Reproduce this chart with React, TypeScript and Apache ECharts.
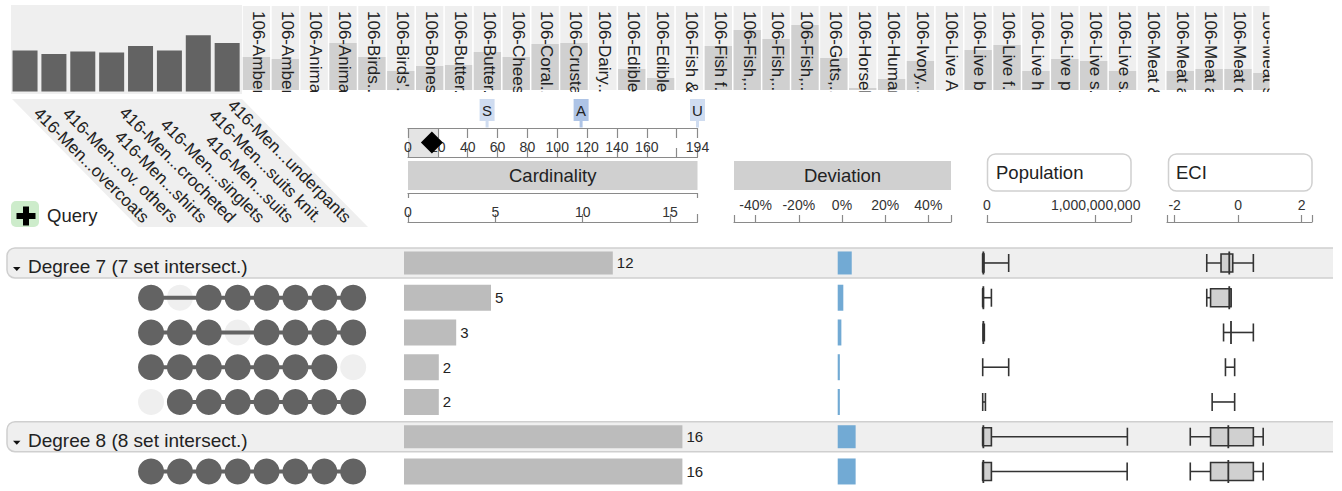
import React, { useEffect, useRef } from "react";
import * as echarts from "echarts";

const FONT = "'Liberation Sans', Arial, sans-serif";

const setNames = ["416-Men...overcoats", "416-Men...ov. others", "416-Men...shirts", "416-Men...crocheted", "416-Men...singlets", "416-Men...suits", "416-Men...suits knit.", "416-Men...underpants"];
const setSizes = [41, 37.6, 40, 39, 45.6, 41, 56.3, 48.6];
const columnNames = ["106-Amber", "106-Amber", "106-Anima", "106-Anima", "106-Birds..", "106-Birds'.", "106-Bones", "106-Butter.", "106-Butter.", "106-Chees", "106-Coral..", "106-Crusta", "106-Dairy..", "106-Edible", "106-Edible", "106-Fish &", "106-Fish f..", "106-Fish,..", "106-Fish,..", "106-Fish,..", "106-Guts,..", "106-Horsel", "106-Human", "106-Ivory,..", "106-Live A", "106-Live b", "106-Live f..", "106-Live h..", "106-Live p", "106-Live s..", "106-Live s..", "106-Meat &", "106-Meat a", "106-Meat a", "106-Meat c", "106-Meat s"];
const columnSizes = [33, 31, 0, 47, 33, 19, 24, 25, 38, 33, 46, 47, 0, 21, 12, 0, 44, 60, 51, 65, 32, 2, 11, 29, 0, 40, 45, 19, 31, 29, 19, 0, 19, 21, 21, 17];

const sliderLabels = [0, 20, 40, 60, 80, 100, 120, 140, 160, 194];
const sliderTicks = [0, 20, 40, 60, 80, 100, 120, 140, 160, 180, 194];
const sliderRange = 20;
const sliderMarker = 16;
const flagNames = ["S", "A", "U"];
const flagValues = [53, 116, 194];

const rowNames = ["Degree 7", "r1", "r2", "r3", "r4", "Degree 8", "r5"];
const groupTitles = ["Degree 7 (7 set intersect.)", "Degree 8 (8 set intersect.)"];
const groupRowIndex = [0, 5];
const cardinality = [12, 5, 3, 2, 2, 16, 16];
const deviation = [6.5, 2.6, 1.7, 1, 1, 8.3, 8.3];
const memberships: (number[] | null)[] = [
  null,
  [1, 0, 1, 1, 1, 1, 1, 1],
  [1, 1, 1, 0, 1, 1, 1, 1],
  [1, 1, 1, 1, 1, 1, 1, 0],
  [0, 1, 1, 1, 1, 1, 1, 1],
  null,
  [1, 1, 1, 1, 1, 1, 1, 1],
];
// min, q1, median, q3, max (null = not drawn)
const populationStats = [
  [0, 0, 0.006, 0.012, 0.239],
  [0, 0, 0.006, 0.006, 0.08],
  [0.003, null, 0.006, null, 0.015],
  [0, null, null, null, 0.239],
  [0, null, null, null, 0.025],
  [0, 0, 0.006, 0.08, 1.331],
  [0, 0, 0.006, 0.08, 1.329],
];
const eciStats = [
  [-0.85, -0.4, -0.14, -0.03, 0.62],
  [-0.85, -0.73, -0.14, -0.085, -0.085],
  [-0.32, null, -0.085, null, 0.62],
  [-0.26, null, null, null, 0.03],
  [-0.68, null, null, null, 0.03],
  [-1.37, -0.73, -0.17, 0.62, 0.93],
  [-1.37, -0.73, -0.17, 0.62, 0.93],
];

const cardAxisMax = 16.57;
const cardTicks = [0, 5, 10, 15];
const devTicks = [-40, -20, 0, 20, 40];
const popTicks = [0, 1000000000];
const eciTicks = [-2, 0, 2];

const AXIS = "#8a8a8a";
const DARK = "#636363";
const LIGHT = "#efefef";
const HEAD = "#d0d0d0";
const ROWBAR = "#bcbcbc";
const BLUE = "#72aad4";
const INK = "#222";

function buildOption() {
  const grid: any[] = [];
  const xAxis: any[] = [];
  const yAxis: any[] = [];
  const series: any[] = [];
  const hiddenY = (gridIndex: number, extra: any = {}) => {
    yAxis.push({ gridIndex, show: false, type: "value", min: 0, max: 1, ...extra });
    return yAxis.length - 1;
  };
  const addGrid = (left: number, top: number, width: number, height: number) => {
    grid.push({ left, top, width, height, containLabel: false });
    return grid.length - 1;
  };
  const hiddenX = (gridIndex: number, extra: any = {}) => {
    xAxis.push({ gridIndex, show: false, ...extra });
    return xAxis.length - 1;
  };
  const rulerAxis = (gridIndex: number, min: number, max: number, labels: number[], ticks: number[], margin: number, tickLen: number, fmt?: (v: number) => string) => {
    xAxis.push({
      gridIndex, type: "value", position: "bottom", min, max, z: 3,
      splitLine: { show: false },
      axisLine: { show: true, onZero: false, lineStyle: { color: AXIS, width: 1.2 } },
      axisTick: { show: true, inside: true, length: tickLen, customValues: ticks, lineStyle: { color: AXIS, width: 1.2 } },
      axisLabel: { show: true, inside: true, margin, customValues: labels, color: "#333", fontSize: 14, fontFamily: FONT, hideOverlap: false, showMinLabel: true, showMaxLabel: true, formatter: fmt },
    });
    return xAxis.length - 1;
  };
  const topBracket = (gridIndex: number, min: number, max: number, ticks: number[], tickLen: number) => {
    xAxis.push({
      gridIndex, type: "value", position: "top", min, max, z: 3,
      splitLine: { show: false },
      axisLine: { show: true, onZero: false, lineStyle: { color: AXIS, width: 1.2 } },
      axisTick: { show: true, inside: true, length: tickLen, customValues: ticks, lineStyle: { color: AXIS, width: 1.2 } },
      axisLabel: { show: false },
    });
    return xAxis.length - 1;
  };

  // Set size bars
  {
    const g = addGrid(10.6, 5, 231, 86.6);
    const xi = hiddenX(g, { type: "category", data: setNames });
    const yi = hiddenY(g, { max: 86.6 });
    series.push({ type: "bar", name: "Set size", xAxisIndex: xi, yAxisIndex: yi, data: setSizes, barWidth: 25, itemStyle: { color: DARK }, silent: true });
  }
  // Columns
  {
    const g = addGrid(242, 6, 36 * 28.87, 84);
    const xi = hiddenX(g, { type: "category", data: columnNames });
    const yi = hiddenY(g, { max: 84 });
    series.push({ type: "bar", name: "Attributes", xAxisIndex: xi, yAxisIndex: yi, data: columnSizes, barWidth: 27.3, itemStyle: { color: HEAD }, showBackground: true, backgroundStyle: { color: LIGHT, opacity: 1 }, silent: true });
    const labelGrid = addGrid(243.8, 6, 36 * 28.87, 84);
    xAxis.push({
      gridIndex: labelGrid, type: "category", position: "top", data: columnNames,
      axisLine: { show: false }, axisTick: { show: false },
      axisLabel: { show: true, inside: true, rotate: -90, interval: 0, margin: 5, align: "left", verticalAlign: "middle", fontSize: 17, color: "#222", fontFamily: FONT, hideOverlap: false },
      z: 5,
    });
    hiddenY(labelGrid);
  }
  // Diagonal set labels
  {
    const g = addGrid(131.6, 150, 231, 70);
    xAxis.push({
      gridIndex: g, type: "category", position: "bottom", data: setNames,
      axisLine: { show: false }, axisTick: { show: false },
      axisLabel: { show: true, rotate: -45, interval: 0, margin: 0, align: "right", verticalAlign: "middle", fontSize: 17, color: "#222", fontFamily: FONT, hideOverlap: false },
    });
    hiddenY(g);
  }
  // Element query slider
  {
    const g = addGrid(408, 128, 289.5, 29);
    const xi = rulerAxis(g, 0, 194, sliderLabels, sliderTicks, 3, 9);
    topBracket(g, 0, 194, sliderTicks, 10);
    yAxis.push({ gridIndex: g, show: false, type: "category", data: ["range"] });
    const yi = yAxis.length - 1;
    series.push({ type: "bar", xAxisIndex: xi, yAxisIndex: yi, data: [sliderRange], barWidth: "100%", itemStyle: { color: "#e4e4e4" }, silent: true, z: 1 });
    series.push({ type: "scatter", xAxisIndex: xi, yAxisIndex: yi, data: [[sliderMarker, "range"]], symbol: "diamond", symbolSize: 22, itemStyle: { color: "#000", opacity: 1 }, silent: true, z: 6 });
  }
  // Flags
  {
    const g = addGrid(408, 99, 289.5, 22);
    const xi = hiddenX(g, { type: "value", min: 0, max: 194 });
    yAxis.push({ gridIndex: g, show: false, type: "category", data: ["flag"] });
    const yi = yAxis.length - 1;
    const colors = ["#cfdcf0", "#aec4e6", "#cfdcf0"];
    series.push({
      type: "scatter", xAxisIndex: xi, yAxisIndex: yi, symbol: "rect", symbolSize: [3, 7], symbolOffset: [0, 14], silent: true, clip: false,
      data: flagValues.map((v, i) => ({ value: [v, "flag"], itemStyle: { color: colors[i], opacity: 1 } })),
    });
    series.push({
      type: "scatter", xAxisIndex: xi, yAxisIndex: yi, symbol: "rect", symbolSize: [15, 22], silent: true, clip: false,
      data: flagValues.map((v, i) => ({ value: [v, "flag"], name: flagNames[i], itemStyle: { color: colors[i], opacity: 1 } })),
      label: { show: true, position: "inside", formatter: (p: any) => p.name, color: "#222", fontSize: 15, fontFamily: FONT },
    });
  }
  // Header rulers
  {
    const g = addGrid(408, 193, 289.5, 29);
    rulerAxis(g, 0, cardAxisMax, cardTicks, [...cardTicks, cardAxisMax], 3, 8);
    topBracket(g, 0, cardAxisMax, [0, cardAxisMax], 5);
    hiddenY(g);
    const d = addGrid(734, 193, 217, 29);
    rulerAxis(d, -50, 50.5, devTicks, [-50, ...devTicks, 50.5], 10, 7, (v) => `${v}%`);
    hiddenY(d);
    const p = addGrid(987, 193, 144, 29);
    rulerAxis(p, 0, 1325000000, popTicks, [...popTicks, 1325000000], 10, 7, (v) => Number(v).toLocaleString("en-US"));
    hiddenY(p);
    const e = addGrid(1167, 193, 145, 29);
    rulerAxis(e, -2.24, 2.33, eciTicks, [-2.24, ...eciTicks, 2.33], 10, 7);
    hiddenY(e);
  }

  const rowTop = 245.6;
  const rowH = 243.25;
  const rowY = (g: number) => {
    yAxis.push({ gridIndex: g, show: false, type: "category", inverse: true, data: rowNames });
    return yAxis.length - 1;
  };
  // Matrix
  {
    const g = addGrid(136.6, rowTop, 231, rowH);
    const xi = hiddenX(g, { type: "category", data: setNames });
    const yi = rowY(g);
    const absent: any[] = [];
    const present: any[] = [];
    memberships.forEach((m, r) => {
      if (!m) return;
      m.forEach((on, c) => (on ? present : absent).push([c, r]));
      const idx = m.map((on, c) => (on ? c : -1)).filter((c) => c >= 0);
      series.push({
        type: "line", xAxisIndex: xi, yAxisIndex: yi, data: [[idx[0], r], [idx[idx.length - 1], r]],
        symbol: "none", lineStyle: { color: DARK, width: 4 }, silent: true, z: 3,
      });
    });
    series.push({ type: "scatter", xAxisIndex: xi, yAxisIndex: yi, data: absent, symbolSize: 26, itemStyle: { color: LIGHT, opacity: 1 }, silent: true, z: 2 });
    series.push({ type: "scatter", xAxisIndex: xi, yAxisIndex: yi, data: present, symbolSize: 26, itemStyle: { color: DARK, opacity: 1 }, silent: true, z: 4 });
  }
  const isGroup = (i: number) => groupRowIndex.includes(i);
  const pick = (arr: number[], group: boolean) => arr.map((v, i) => (isGroup(i) === group ? v : null));
  // Cardinality rows
  {
    const g = addGrid(404, rowTop, 17.4 * 17, rowH);
    const xi = hiddenX(g, { type: "value", min: 0, max: 17 });
    const label = { show: true, position: "right", distance: 4, color: INK, fontSize: 15, fontFamily: FONT };
    series.push({ type: "bar", name: "Cardinality", xAxisIndex: xi, yAxisIndex: rowY(g), data: pick(cardinality, true), barWidth: 23, itemStyle: { color: ROWBAR }, label, silent: true });
    series.push({ type: "bar", name: "Cardinality", xAxisIndex: xi, yAxisIndex: rowY(g), data: pick(cardinality, false), barWidth: 26, itemStyle: { color: ROWBAR }, label, silent: true });
  }
  // Deviation rows
  {
    const g = addGrid(837.7, rowTop, 2.16 * 20, rowH);
    const xi = hiddenX(g, { type: "value", min: 0, max: 20 });
    series.push({ type: "bar", name: "Deviation", xAxisIndex: xi, yAxisIndex: rowY(g), data: pick(deviation, true), barWidth: 23, itemStyle: { color: BLUE }, silent: true });
    series.push({ type: "bar", name: "Deviation", xAxisIndex: xi, yAxisIndex: rowY(g), data: pick(deviation, false), barWidth: 26, itemStyle: { color: BLUE }, silent: true });
  }
  const boxSeries = (stats: (number | null)[][], xi: number, yi: number, name: string) => ({
    type: "custom", name, xAxisIndex: xi, yAxisIndex: yi, silent: true, clip: false,
    encode: { x: [0, 1, 2, 3, 4], y: 5 },
    data: stats.map((s, r) => [...s.map((v) => (v === null ? "-" : v)), r]),
    renderItem: (_: any, api: any) => {
      const r = api.value(5);
      const y = api.coord([0, r])[1];
      const px = (i: number) => { const v = api.value(i); return isNaN(v) ? null : api.coord([v, r])[0]; };
      const [lo, q1, med, q3, hi] = [px(0), px(1), px(2), px(3), px(4)];
      const stroke = { stroke: "#333", lineWidth: 1.6, fill: "none" };
      const line = (x1: number, y1: number, x2: number, y2: number, lw = 1.6) => ({ type: "line", shape: { x1, y1, x2, y2 }, style: { ...stroke, lineWidth: lw } });
      const kids: any[] = [];
      kids.push(line(lo, y, hi, y));
      kids.push(line(lo, y - 9, lo, y + 9));
      kids.push(line(hi, y - 9, hi, y + 9));
      if (q1 !== null && q3 !== null) {
        kids.push({ type: "rect", shape: { x: q1, y: y - 9, width: q3 - q1, height: 18 }, style: { fill: HEAD, stroke: "#333", lineWidth: 1.6 } });
      }
      if (med !== null) kids.push(line(med, y - 11.5, med, y + 11.5, 1.8));
      return { type: "group", children: kids };
    },
  });
  // Population rows
  {
    const g = addGrid(982.7, rowTop, 108.7 * 1.4, rowH);
    const xi = hiddenX(g, { type: "value", min: 0, max: 1.4 });
    series.push(boxSeries(populationStats, xi, rowY(g), "Population"));
  }
  // ECI rows
  {
    const g = addGrid(1170.3, rowTop, 126.8, rowH);
    const xi = hiddenX(g, { type: "value", min: -2, max: 2 });
    series.push(boxSeries(eciStats, xi, rowY(g), "ECI"));
  }

  const headerText = (text: string, x: number, y: number, align = "center", size = 18.5) => ({
    type: "text", x, y, z: 6, style: { text, fill: INK, font: `${size}px ${FONT}`, align, verticalAlign: "middle" },
  });
  const graphic: any[] = [
    { type: "rect", z: -1, shape: { x: 11, y: 5, width: 231, height: 89 }, style: { fill: LIGHT } },
    { type: "polygon", z: -1, shape: { points: [[12, 99], [242, 99], [368, 227], [138, 227]] }, style: { fill: LIGHT } },
    { type: "rect", z: 10, shape: { x: 243, y: 92, width: 1050, height: 7 }, style: { fill: "#fff" } },
    { type: "rect", z: 10, shape: { x: 1269.5, y: 0, width: 30, height: 99 }, style: { fill: "#fff" } },
    { type: "rect", z: -1, shape: { x: 11, y: 201, width: 28, height: 26, r: 5 }, style: { fill: "#cdeccb" } },
    { type: "rect", z: 6, shape: { x: 16.5, y: 213, width: 19, height: 6 }, style: { fill: "#000" } },
    { type: "rect", z: 6, shape: { x: 23, y: 206.5, width: 6, height: 19 }, style: { fill: "#000" } },
    headerText("Query", 47, 215.5, "left"),
    { type: "rect", z: -1, shape: { x: 408, y: 161, width: 289.5, height: 29 }, style: { fill: HEAD } },
    headerText("Cardinality", 552.7, 175.5),
    { type: "rect", z: -1, shape: { x: 734, y: 161, width: 217, height: 29 }, style: { fill: HEAD } },
    headerText("Deviation", 842.5, 175.5),
    { type: "rect", z: -1, shape: { x: 987.5, y: 154, width: 143.5, height: 37, r: 8 }, style: { fill: "#fff", stroke: "#d0d0d0", lineWidth: 1.5 } },
    headerText("Population", 996, 172, "left"),
    { type: "rect", z: -1, shape: { x: 1168.5, y: 154, width: 143.5, height: 37, r: 8 }, style: { fill: "#fff", stroke: "#d0d0d0", lineWidth: 1.5 } },
    headerText("ECI", 1176, 172, "left"),
  ];
  groupRowIndex.forEach((r, i) => {
    const cy = rowTop + (r + 0.5) * (rowH / rowNames.length);
    graphic.push({ type: "rect", z: -1, shape: { x: 7, y: cy - 15, width: 1327, height: 30, r: [8, 0, 0, 8] }, style: { fill: LIGHT, stroke: "#cfcfcf", lineWidth: 1.5 } });
    graphic.push({ type: "rect", z: 0, shape: { x: 1333, y: cy - 17, width: 4, height: 34 }, style: { fill: "#fff" } });
    graphic.push({ type: "polygon", z: 6, shape: { points: [[13, cy + 4], [20.5, cy + 4], [16.8, cy + 8]] }, style: { fill: "#111" } });
    graphic.push(headerText(groupTitles[i], 28, cy + 4, "left", 19));
  });

  return {
    animation: false,
    backgroundColor: "#fff",
    textStyle: { fontFamily: FONT },
    grid, xAxis, yAxis, series, graphic,
  };
}

export default function App() {
  const ref = useRef<HTMLDivElement>(null);
  useEffect(() => {
    const chart = echarts.init(ref.current!, undefined, { renderer: "svg" });
    chart.setOption(buildOption() as any);
    return () => chart.dispose();
  }, []);
  return <div ref={ref} style={{ position: "absolute", left: 0, top: 0, width: 1342, height: 491 }} />;
}
